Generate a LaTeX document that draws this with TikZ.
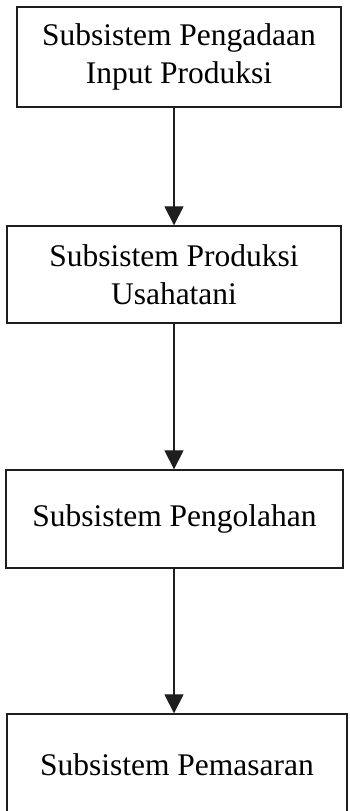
\documentclass[tikz,border=0pt]{standalone}
\usepackage{fontspec}
\setmainfont{Liberation Serif}
\usetikzlibrary{arrows.meta,positioning,calc}
\definecolor{ink}{RGB}{30,30,30}
\tikzset{
  sub/.style={draw=ink,line width=1.3pt,inner sep=0pt,align=center,
    font=\fontsize{31.5}{38.5}\selectfont},
  arr/.style={-{Triangle[length=19pt,width=19pt]},line width=1.2pt,ink},
}
\begin{document}
\begin{tikzpicture}[x=1pt,y=-1pt]
\useasboundingbox (0,0) rectangle (349,811);
\node[sub,minimum width=324pt,minimum height=100pt] (inp) at (179,57)
  {Subsistem Pengadaan\\Input Produksi};
\node[sub,minimum width=334pt,minimum height=97pt] (prod) at (174,274.5)
  {Subsistem Produksi\\Usahatani};
\node[sub,minimum width=337pt,minimum height=98pt] (olah) at (174.5,519)
  {Subsistem Pengolahan};
\node[sub,minimum width=340pt,minimum height=104pt] (pasar) at (177,766)
  {\raisebox{3pt}{Subsistem Pemasaran}};
\draw[arr] (inp.south -| prod.north) -- (prod.north);
\draw[arr] (prod.south) -- (prod.south |- olah.north);
\draw[arr] (olah.south -| prod.south) -- (prod.south |- pasar.north);
\end{tikzpicture}
\end{document}
